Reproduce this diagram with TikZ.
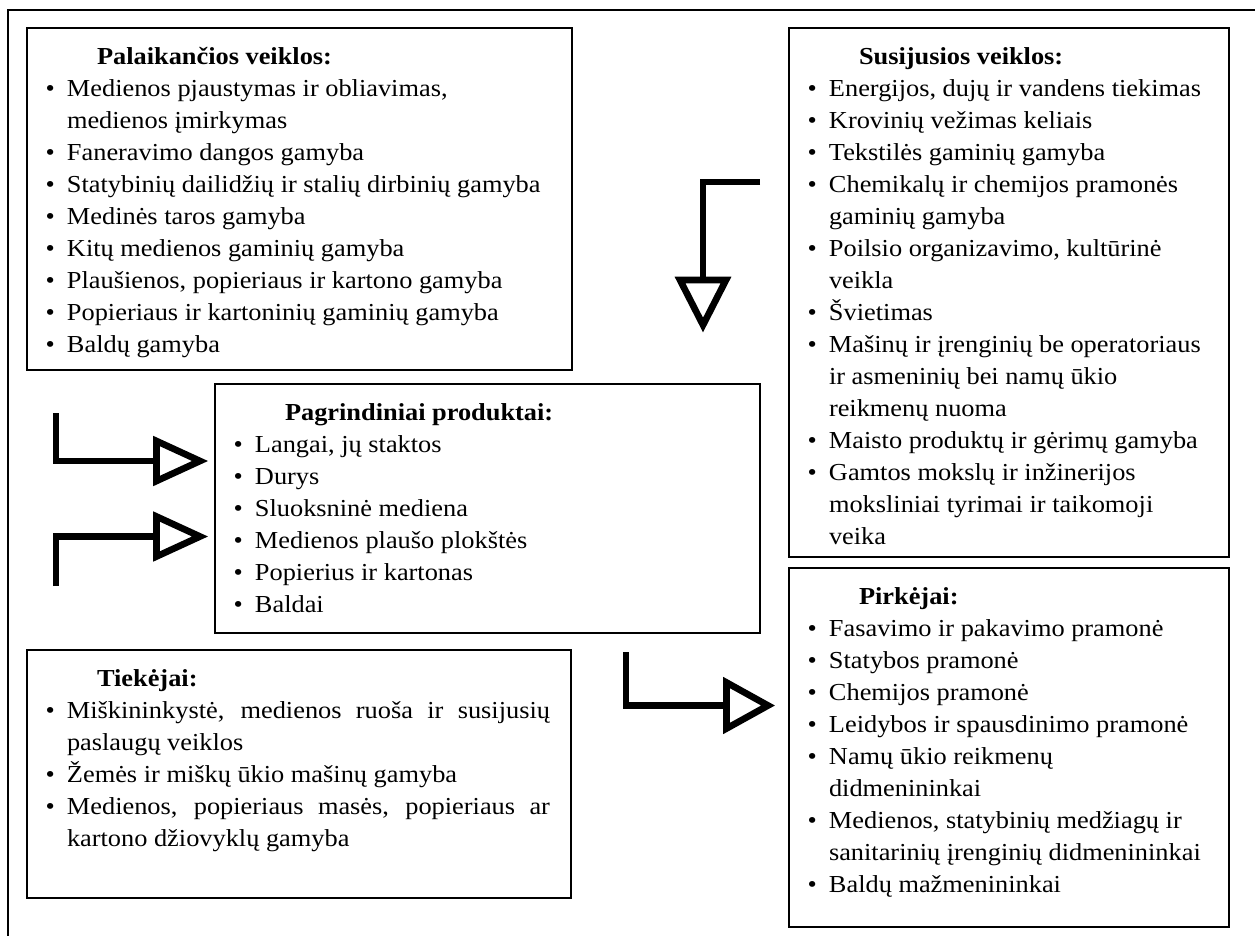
\documentclass[tikz,border=0pt]{standalone}
\usepackage{fontspec}
\setmainfont{Liberation Serif}[FakeStretch=1.08]
\usetikzlibrary{calc}

% list geometry inside a panel (measured from the panel's left edge)
\newlength\bulpos \setlength\bulpos{14pt}
\newlength\txtpos \setlength\txtpos{30pt}
\newlength\titpos \setlength\titpos{52.5pt}

\newcommand\boxtitle[1]{\leavevmode\rule{0pt}{27pt}\hspace*{\titpos}\textbf{#1}\par}
\newcommand\itm{\par\hangindent=\txtpos\hangafter=1\noindent
  \makebox[\txtpos][l]{\hspace*{\bulpos}\textbullet}\ignorespaces}
% ragged panel body: width, height, content
\newcommand\panelbody[3]{\parbox[t][#2][t]{#1}{\fontsize{18.3pt}{24pt}\selectfont
  \parindent=0pt\parskip=0pt\raggedright #3}}
% justified panel body
\newcommand\panelbodyj[3]{\parbox[t][#2][t]{#1}{\fontsize{18.3pt}{24pt}\selectfont
  \parindent=0pt\parskip=0pt\rightskip=15.75pt #3}}

\begin{document}
\begin{tikzpicture}[x=0.75pt,y=-0.75pt,
  panel/.style={draw, line width=1.2pt, inner sep=0pt, outer sep=0pt, anchor=north west},
  frame/.style={line width=1.5pt},
  shaft/.style={line width=5pt, line join=miter, line cap=butt},
  head/.style={draw, line width=5pt, line join=miter, fill=white}]

\useasboundingbox (0,0) rectangle (1255,935);

% outer frame (only its top and left sides fall inside the page)
\draw[frame] (1262,10) -| (8,942);

% supporting activities
\node[panel] (sup) at (27,28) {\panelbody{408.75pt}{256.5pt}{%
\boxtitle{Palaikančios veiklos:}
\itm Medienos pjaustymas ir obliavimas,\newline medienos įmirkymas
\itm Faneravimo dangos gamyba
\itm Statybinių dailidžių ir stalių dirbinių gamyba
\itm Medinės taros gamyba
\itm Kitų medienos gaminių gamyba
\itm Plaušienos, popieriaus ir kartono gamyba
\itm Popieriaus ir kartoninių gaminių gamyba
\itm Baldų gamyba}};

% related activities
\node[panel] (rel) at (789,28) {\panelbody{330pt}{396.75pt}{%
\boxtitle{Susijusios veiklos:}
\itm Energijos, dujų ir vandens tiekimas
\itm Krovinių vežimas keliais
\itm Tekstilės gaminių gamyba
\itm Chemikalų ir chemijos pramonės\newline gaminių gamyba
\itm Poilsio organizavimo, kultūrinė\newline veikla
\itm Švietimas
\itm Mašinų ir įrenginių be operatoriaus\newline ir asmeninių bei namų ūkio\newline reikmenų nuoma
\itm Maisto produktų ir gėrimų gamyba
\itm Gamtos mokslų ir inžinerijos\newline moksliniai tyrimai ir taikomoji\newline veika}};

% main products
\node[panel] (prod) at (215,384) {\panelbody{408.75pt}{186.75pt}{%
\boxtitle{Pagrindiniai produktai:}
\itm Langai, jų staktos
\itm Durys
\itm Sluoksninė mediena
\itm Medienos plaušo plokštės
\itm Popierius ir kartonas
\itm Baldai}};

% buyers
\node[panel] (buy) at (789,568) {\panelbody{330pt}{269.25pt}{%
\boxtitle{Pirkėjai:}
\itm Fasavimo ir pakavimo pramonė
\itm Statybos pramonė
\itm Chemijos pramonė
\itm Leidybos ir spausdinimo pramonė
\itm Namų ūkio reikmenų\newline didmenininkai
\itm Medienos, statybinių medžiagų ir\newline sanitarinių įrenginių didmenininkai
\itm Baldų mažmenininkai}};

% suppliers
\node[panel] (sppl) at (27,650) {\panelbodyj{408pt}{186pt}{%
\boxtitle{Tiekėjai:}
\itm Miškininkystė, medienos ruoša ir susijusių\linebreak paslaugų veiklos
\itm Žemės ir miškų ūkio mašinų gamyba
\itm Medienos, popieriaus masės, popieriaus ar\linebreak kartono džiovyklų gamyba}};

% connector end points
\coordinate (s1) at (56,413);
\coordinate (t1) at ($(prod.north west)+(-15,77)$);
\coordinate (s2) at (56,586);
\coordinate (t2) at ($(prod.north west)+(-15,152.5)$);
\coordinate (s3) at (760,182);
\coordinate (t3) at ($(rel.north west)+(-86,297)$);
\coordinate (s4) at (626,652);
\coordinate (t4) at ($(buy.north west)+(-21,137.5)$);

% elbow connectors with hollow triangular heads
\draw[shaft] (s1) |- ($(t1)+(-43.5,0)$);
\draw[head] (t1) -- ++(-43.5,-20) -- ++(0,40) -- cycle;

\draw[shaft] (s2) |- ($(t2)+(-43.5,0)$);
\draw[head] (t2) -- ++(-43.5,-20) -- ++(0,40) -- cycle;

\draw[shaft] (s3) -| ($(t3)+(0,-45)$);
\draw[head] (t3) -- ++(-23,-45) -- ++(46,0) -- cycle;

\draw[shaft] (s4) |- ($(t4)+(-41.5,0)$);
\draw[head] (t4) -- ++(-41.5,-23) -- ++(0,46) -- cycle;

\end{tikzpicture}
\end{document}
